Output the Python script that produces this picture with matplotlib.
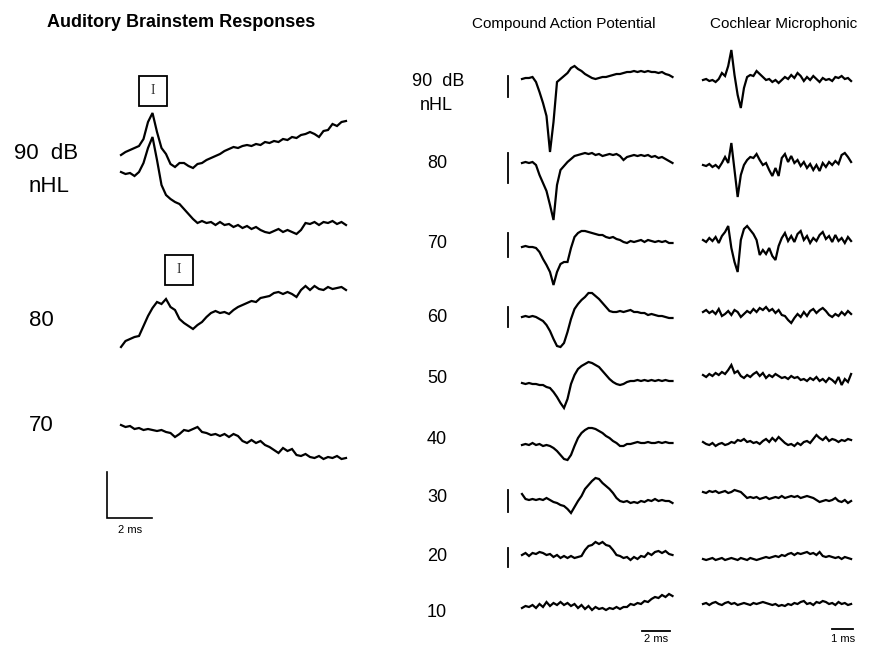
import numpy as np
import matplotlib
matplotlib.use("Agg")
import matplotlib.pyplot as plt
from matplotlib.patches import Rectangle

plt.rcParams['font.family'] = ['Liberation Sans', 'DejaVu Sans']

# ------------------------------------------------------------------
# Recorded waveforms (amplitude in a.u., positive = up), uniform sampling
# ------------------------------------------------------------------
abr_dt = 0.2     # ms
abr_90_a = [0, 3, 5, 7, 9, 16, 33, 42, 23, 7, 1, -9, -12, -8, -8, -11, -13, -9, -8, -5,
            -3, -1, 1, 4, 6, 8, 7, 9, 10, 9, 11, 10, 13, 12, 14, 13, 16, 15, 18, 17,
            20, 21, 23, 21, 18, 24, 25, 31, 29, 33, 34]
abr_90_b = [0, -2, -1, -4, 0, 9, 24, 35, 12, -13, -23, -27, -30, -32, -37, -42, -47, -51, -49, -51,
            -50, -53, -50, -53, -52, -55, -53, -56, -54, -57, -55, -58, -60, -61, -59, -57, -60, -58, -60, -62,
            -58, -51, -52, -50, -53, -50, -51, -49, -52, -50, -53]
abr_80 = [0, 6, 8, 10, 11, 21, 31, 39, 45, 43, 48, 40, 37, 28, 24, 21, 18, 22, 25, 30,
          34, 36, 34, 35, 33, 37, 40, 42, 44, 46, 45, 49, 50, 51, 54, 55, 53, 55, 53, 50,
          57, 61, 57, 61, 58, 57, 60, 58, 59, 60, 57]
abr_70 = [0, -2, -1, -4, -3, -5, -4, -5, -6, -5, -7, -8, -12, -9, -5, -6, -4, -2, -7, -8,
          -10, -9, -11, -9, -12, -9, -11, -16, -18, -15, -18, -16, -20, -22, -25, -28, -23, -26, -24, -30,
          -31, -29, -32, -33, -31, -34, -32, -33, -31, -34, -33]
abr_traces = [abr_90_a, abr_90_b, abr_80, abr_70]

cap_dt = 0.25    # ms
cap_levels = ["90 dB", "80", "70", "60", "50", "40", "30", "20", "10"]
cap_90 = [0, 1, 1, 2, -3, -13, -24, -37, -73, -43, -3, 0, 3, 6, 11, 13, 10, 8, 5, 3,
          1, 0, 1, 2, 2, 3, 4, 5, 5, 6, 7, 7, 8, 7, 8, 7, 8, 7, 7, 6, 7, 5, 4, 2]
cap_80 = [0, 1, 0, 1, -2, -12, -20, -28, -42, -57, -22, -7, -3, 1, 4, 7, 8, 9, 10, 9,
          10, 8, 9, 7, 8, 9, 8, 9, 7, 3, 6, 7, 8, 7, 8, 7, 8, 6, 7, 5, 6, 4, 2, 0]
cap_70 = [0, 1, 0, 0, -1, -5, -12, -18, -25, -38, -25, -17, -15, -15, -1, 10, 14, 16, 16, 15,
          14, 13, 12, 12, 10, 9, 10, 8, 7, 5, 4, 6, 5, 6, 7, 5, 7, 6, 5, 6, 5, 6, 4, 4]
cap_60 = [0, 1, 0, 1, 0, -2, -4, -8, -14, -22, -29, -30, -26, -15, -2, 8, 13, 17, 20, 24,
          24, 21, 18, 14, 10, 6, 5, 5, 6, 5, 6, 7, 5, 5, 4, 4, 2, 3, 2, 1, 1, 0, -1, -1]
cap_50 = [0, -1, 0, -1, -1, -2, -2, -4, -5, -9, -14, -20, -25, -16, -1, 8, 14, 17, 19, 21,
          20, 18, 16, 12, 8, 4, 1, -1, -2, -1, 1, 2, 2, 3, 2, 3, 2, 3, 2, 3, 2, 3, 2, 2]
cap_40 = [0, 1, 0, 2, 0, 1, -1, 0, -1, -3, -6, -10, -14, -15, -10, -1, 7, 12, 15, 17,
          17, 16, 14, 12, 9, 7, 4, 2, -1, -1, 1, 1, 2, 3, 2, 2, 3, 2, 2, 3, 2, 3, 2, 2]
cap_30 = [1, -4, -5, -4, -5, -4, -5, -3, -5, -7, -8, -10, -11, -14, -18, -12, -6, -1, 6, 10,
          14, 17, 16, 12, 9, 6, 2, -3, -6, -7, -6, -8, -7, -8, -6, -7, -5, -6, -4, -6, -5, -6, -6, -8]
cap_20 = [0, 2, -1, 2, 1, 3, 2, 0, 1, -2, 0, -3, -1, -3, -1, -3, -2, -1, 5, 9,
          10, 13, 11, 13, 10, 9, 5, 0, -1, -3, -2, -5, -2, -4, -1, -2, 2, 0, 3, 4, 2, 4, 1, 0]
cap_10 = [-1, 1, 0, 2, -1, 3, 0, 5, 1, 4, 2, 5, 2, 4, 1, 3, -1, 2, -2, 1,
          -3, 0, -2, -1, -3, -1, -2, 0, -2, 0, 0, 3, 2, 4, 3, 6, 5, 8, 10, 9, 12, 10, 13, 11]
cap_traces = [cap_90, cap_80, cap_70, cap_60, cap_50, cap_40, cap_30, cap_20, cap_10]
# calibration bar extent (top, bottom) for the traces that carry one
cap_cal = {"90 dB": (3, -18), "80": (10, -20), "70": (14, -10), "60": (10, -10),
           "30": (5, -17), "20": (7, -12)}

cm_dt = 0.15     # ms
cm_90 = [0, 1, -1, 0, -2, 1, 7, 4, 14, 30, 5, -15, -28, -8, 3, 5, 4, 9, 6, 3,
         0, 1, -2, 0, -3, 0, 3, 1, 5, 2, 7, 4, -1, 3, 0, 4, 1, -2, 2, 0, 1, -1, 3, 2, 4, 1, 2, -1]
cm_80 = [0, -1, 1, -2, 0, -3, 2, 8, 2, 22, -5, -32, -10, 0, 5, 8, 7, 11, 5, 0,
         2, -5, -11, -3, -11, 7, 11, 3, 9, 2, 5, -1, 3, -3, 1, -5, 0, -6, 2, -2, 3, 0, 4, 1, 10, 12, 8, 3]
cm_70 = [0, -2, 2, -1, 3, -3, 4, 8, 14, -8, -22, -32, 0, 11, 14, 10, 6, 0, -15, -10,
         -14, -8, -16, -20, -6, 2, 7, -1, 4, -2, 6, 9, 0, 4, -3, 2, -1, 5, 8, 1, 4, -2, 5, -1, 2, -3, 3, -1]
cm_60 = [0, 2, -1, 1, -2, 3, -4, -2, 1, -3, 2, 0, -5, -2, 1, -1, 3, 0, 4, 2,
         5, 1, 3, -1, 2, -3, -4, -8, -11, -6, -2, -5, 0, -4, 1, 3, -1, 2, 4, 1, -3, -5, -2, -4, 0, -3, 1, -2]
cm_50 = [0, -2, 1, -1, 2, 0, 3, 1, 5, 10, 2, 4, -1, -3, 0, -2, 1, 3, -1, 2,
         -3, 0, -2, 1, -1, -3, -2, -4, -1, -3, -2, -5, -4, -6, -3, -5, -2, -6, -4, -7, -3, -5, -8, -2, -10, -4, -7, 1]
cm_40 = [0, -2, -3, -1, -4, -2, -1, -3, -2, 0, -1, 2, 1, 3, 0, 1, -1, 0, -2, 1,
         3, 0, 4, 1, 5, 2, -1, -3, -2, -4, -1, -3, 0, 1, -1, 3, 7, 4, 2, 5, 1, 3, 2, 0, 2, 1, 3, 2]
cm_30 = [0, -1, 1, 0, 1, -1, 0, 1, -1, 0, 2, 1, 0, -3, -6, -5, -6, -5, -7, -6,
         -5, -7, -6, -5, -6, -4, -6, -5, -4, -5, -4, -6, -5, -4, -5, -6, -8, -10, -9, -8, -9, -8, -6, -9, -10, -8, -11, -9]
cm_20 = [0, -1, 0, 1, -1, 0, 1, -1, 0, 1, 0, -1, 1, 0, -1, 1, 0, -1, 0, 1,
         2, 1, 2, 3, 2, 4, 3, 5, 6, 4, 6, 5, 6, 7, 5, 6, 4, 7, 3, 2, 3, 2, 1, 2, 0, 2, 1, 0]
cm_10 = [0, 1, -1, 1, 2, 0, -1, 1, 2, 0, 1, -1, 0, 1, 0, -1, 1, 0, 1, 2,
         1, 0, -1, 0, -2, -1, -2, 0, -1, 1, 0, 2, 3, 0, 1, -1, 2, 1, 3, 2, 0, 1, -1, 2, 0, 1, -1, 0]
cm_traces = [cm_90, cm_80, cm_70, cm_60, cm_50, cm_40, cm_30, cm_20, cm_10]

# ------------------------------------------------------------------
# Layout
# ------------------------------------------------------------------
W, H = 869, 650
fig = plt.figure(figsize=(W / 100, H / 100), dpi=100)
fig.patch.set_facecolor('white')

INK = 'black'
LW = 1.6


def fxy(px, py):
    return px / W, 1 - py / H


def panel(x0, x1, tmax):
    ax = fig.add_axes([x0 / W, 0, (x1 - x0) / W, 1])
    ax.set_xlim(0, tmax)
    ax.set_ylim(0, H)
    ax.axis('off')
    return ax


def draw_trace(ax, values, dt, offset):
    v = np.asarray(values, dtype=float)
    t = np.arange(len(v)) * dt
    ax.plot(t, offset + v, color=INK, lw=LW, solid_joinstyle='miter',
            clip_on=False)


def label(px, py, s, size, **kw):
    x, y = fxy(px, py)
    fig.text(x, y, s, fontsize=size, ha='center', va='baseline', color=INK, **kw)


# ---------------- ABR panel ----------------
ax_abr = panel(121, 346, 10.0)
abr_rows = [495, 478, 303, 225]
for vals, row in zip(abr_traces, abr_rows):
    draw_trace(ax_abr, vals, abr_dt, row)

# wave I markers
for tc, yc in [(1.42, 559), (2.56, 380.5)]:
    w, h = 1.24, 30
    ax_abr.add_patch(Rectangle((tc - w / 2, yc - h / 2), w, h, fill=False,
                               edgecolor=INK, lw=1.3, clip_on=False))
    ax_abr.text(tc, yc, "I", ha='center', va='center', fontsize=10,
                family='Liberation Serif', color='#333333')

# calibration: 2 ms horizontal, vertical amplitude bar
bx, by, bw, bh = -0.62, 132, 2.0, 46
ax_abr.plot([bx, bx, bx + bw], [by + bh, by, by], color=INK, lw=1.2,
            solid_joinstyle='miter', clip_on=False)
label(130, 533, "2 ms", 8)

label(181, 27, "Auditory Brainstem Responses", 13, fontweight='bold')
label(46, 159, "90  dB", 16)
label(49, 192, "nHL", 16)
label(41, 326, "80", 16)
label(41, 431, "70", 16)

# ---------------- CAP panel ----------------
ax_cap = panel(522, 672.5, 10.75)
cap_rows = [571, 487, 403, 333, 267, 205, 155, 95, 43]
for vals, row, lev in zip(cap_traces, cap_rows, cap_levels):
    draw_trace(ax_cap, vals, cap_dt, row)
    if lev in cap_cal:
        top, bot = cap_cal[lev]
        ax_cap.plot([-1.0, -1.0], [row + bot, row + top], color=INK, lw=1.3,
                    clip_on=False)

ax_cap.plot([8.57, 10.57], [19, 19], color=INK, lw=1.3, clip_on=False)
label(656, 642, "2 ms", 8)

label(564, 28, "Compound Action Potential", 11)
cap_label_base = [86, 168, 248, 322, 383, 444, 502, 561, 617]
for lev, yb in zip(cap_levels, cap_label_base):
    if lev == "90 dB":
        label(438, yb, "90  dB", 13)
        label(436, 110, "nHL", 13)
    else:
        label(437, yb, lev, 13)

# ---------------- CM panel ----------------
ax_cm = panel(703, 851.1, 7.05)
cm_rows = [570, 485, 410, 338, 275, 208, 158, 91, 46]
for vals, row in zip(cm_traces, cm_rows):
    draw_trace(ax_cm, vals, cm_dt, row)

ax_cm.plot([6.14, 7.14], [21, 21], color=INK, lw=1.3, clip_on=False)
label(843, 642, "1 ms", 8)

label(784, 28, "Cochlear Microphonic", 11)

fig.savefig("out.png", dpi=100, facecolor='white')
